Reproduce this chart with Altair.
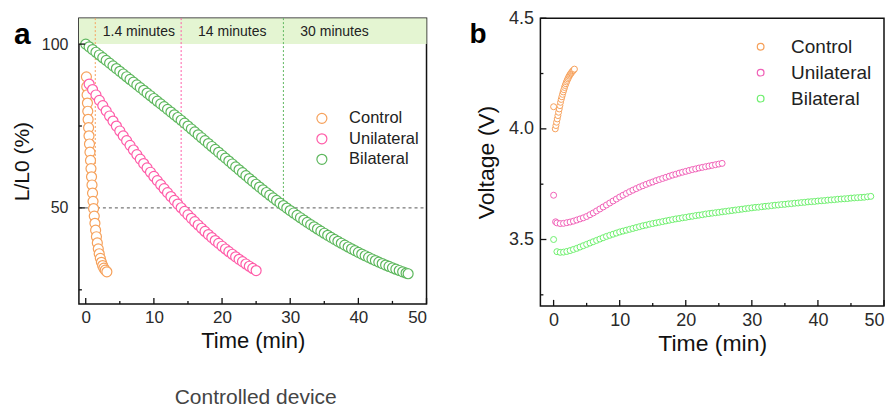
import altair as alt
import pandas as pd

FONT = "Liberation Sans"
SERIES = ["Control", "Unilateral", "Bilateral"]
COLORS_A = ["#F6A15B", "#FF5CA8", "#5DB75D"]
COLORS_B = ["#F6A15B", "#F062B8", "#6EEF6E"]
BAND = "#E4F5D2"

# ---------------- Panel a : L/L0 (%) vs time ----------------
a_control_t = [0.10, 0.15, 0.20, 0.25, 0.30, 0.35, 0.42, 0.48, 0.55, 0.62,
               0.70, 0.77, 0.85, 0.92, 1.00, 1.07, 1.15, 1.25, 1.35, 1.45,
               1.57, 1.70, 1.84, 1.98, 2.14, 2.30, 2.48, 2.66, 2.86, 3.10]
a_control_v = [90.0, 87.0, 84.5, 82.0, 79.5, 77.0, 74.5, 72.0, 69.5, 67.0,
               64.5, 62.0, 59.5, 57.0, 54.5, 52.0, 49.8, 47.5, 45.3, 43.2,
               41.2, 39.3, 37.5, 36.0, 34.6, 33.4, 32.4, 31.6, 31.0, 30.5]

a_uni_t = [0.5, 1.0, 1.5, 2.0, 2.5, 3.0, 3.5, 4.0, 4.5, 5.0,
           5.5, 6.0, 6.5, 7.0, 7.5, 8.0, 8.5, 9.0, 9.5, 10.0,
           10.5, 11.0, 11.5, 12.0, 12.5, 13.0, 13.5, 14.0, 14.5, 15.0,
           15.5, 16.0, 16.5, 17.0, 17.5, 18.0, 18.5, 19.0, 19.5, 20.0,
           20.5, 21.0, 21.5, 22.0, 22.5, 23.0, 23.5, 24.0, 24.5, 25.0]
a_uni_v = [87.80, 86.12, 84.47, 82.83, 81.22, 79.63, 78.06, 76.51, 74.98, 73.48,
           71.99, 70.53, 69.09, 67.67, 66.27, 64.89, 63.54, 62.20, 60.89, 59.60,
           58.33, 57.08, 55.86, 54.65, 53.47, 52.31, 51.17, 50.05, 48.95, 47.88,
           46.82, 45.79, 44.78, 43.79, 42.82, 41.87, 40.95, 40.04, 39.16, 38.30,
           37.46, 36.64, 35.85, 35.07, 34.32, 33.59, 32.88, 32.19, 31.52, 30.88]

a_bi_t = [0.0, 0.5, 1.0, 1.5, 2.0, 2.5, 3.0, 3.5, 4.0, 4.5,
          5.0, 5.5, 6.0, 6.5, 7.0, 7.5, 8.0, 8.5, 9.0, 9.5,
          10.0, 10.5, 11.0, 11.5, 12.0, 12.5, 13.0, 13.5, 14.0, 14.5,
          15.0, 15.5, 16.0, 16.5, 17.0, 17.5, 18.0, 18.5, 19.0, 19.5,
          20.0, 20.5, 21.0, 21.5, 22.0, 22.5, 23.0, 23.5, 24.0, 24.5,
          25.0, 25.5, 26.0, 26.5, 27.0, 27.5, 28.0, 28.5, 29.0, 29.5,
          30.0, 30.5, 31.0, 31.5, 32.0, 32.5, 33.0, 33.5, 34.0, 34.5,
          35.0, 35.5, 36.0, 36.5, 37.0, 37.5, 38.0, 38.5, 39.0, 39.5,
          40.0, 40.5, 41.0, 41.5, 42.0, 42.5, 43.0, 43.5, 44.0, 44.5,
          45.0, 45.5, 46.0, 46.5, 47.0, 47.3]
a_bi_v = [100.0, 99.17, 98.34, 97.51, 96.68, 95.85, 95.02, 94.19, 93.36, 92.53,
          91.70, 90.87, 90.04, 89.21, 88.38, 87.55, 86.72, 85.89, 85.06, 84.23,
          83.40, 82.57, 81.74, 80.91, 80.08, 79.25, 78.42, 77.59, 76.76, 75.87,
          74.98, 74.09, 73.20, 72.31, 71.42, 70.53, 69.64, 68.75, 67.86, 66.97,
          66.08, 65.19, 64.30, 63.41, 62.52, 61.63, 60.74, 59.85, 58.96, 58.09,
          57.22, 56.37, 55.53, 54.70, 53.88, 53.07, 52.27, 51.49, 50.71, 49.95,
          49.19, 48.45, 47.72, 47.00, 46.29, 45.59, 44.90, 44.23, 43.56, 42.91,
          42.26, 41.63, 41.01, 40.40, 39.80, 39.21, 38.63, 38.07, 37.51, 36.97,
          36.43, 35.91, 35.40, 34.90, 34.41, 33.93, 33.46, 33.01, 32.56, 32.13,
          31.70, 31.29, 30.89, 30.50, 30.12, 29.90]

band_labels = ["1.4 minutes", "14 minutes", "30 minutes"]
band_label_t = [7.8, 21.5, 36.5]
band_label_v = [103.6, 103.6, 103.6]
marker_t = [1.4, 14.0, 29.0]

# ---------------- Panel b : Voltage vs time ----------------
b_control_t = [0.0, 0.25, 0.35, 0.45, 0.55, 0.65, 0.75, 0.85, 0.95, 1.05,
               1.15, 1.25, 1.35, 1.45, 1.55, 1.65, 1.75, 1.85, 1.95, 2.05,
               2.15, 2.25, 2.35, 2.45, 2.55, 2.65, 2.75, 2.85, 2.95, 3.05, 3.15]
b_control_v = [4.100, 4.000, 4.015, 4.030, 4.045, 4.060, 4.075, 4.090, 4.105, 4.120,
               4.133, 4.145, 4.156, 4.167, 4.177, 4.187, 4.196, 4.204, 4.212, 4.219,
               4.226, 4.232, 4.238, 4.243, 4.248, 4.252, 4.256, 4.260, 4.263, 4.266, 4.270]

b_uni_t = [0.0, 0.3, 0.5, 1.0, 1.5, 2.0, 2.5, 3.0, 3.5, 4.0, 4.5, 5.0,
           5.5, 6.0, 6.5, 7.0, 7.5, 8.0, 8.5, 9.0, 9.5, 10.0,
           10.5, 11.0, 11.5, 12.0, 12.5, 13.0, 13.5, 14.0, 14.5, 15.0,
           15.5, 16.0, 16.5, 17.0, 17.5, 18.0, 18.5, 19.0, 19.5, 20.0,
           20.5, 21.0, 21.5, 22.0, 22.5, 23.0, 23.5, 24.0, 24.5, 25.0, 25.5]
b_uni_v = [3.700, 3.580, 3.575, 3.572, 3.573, 3.576, 3.579, 3.583, 3.588, 3.593, 3.598, 3.604,
           3.612, 3.620, 3.629, 3.638, 3.647, 3.656, 3.665, 3.674, 3.683, 3.692,
           3.700, 3.708, 3.716, 3.723, 3.730, 3.737, 3.743, 3.749, 3.755, 3.760,
           3.766, 3.771, 3.776, 3.781, 3.786, 3.791, 3.795, 3.800, 3.804, 3.808,
           3.812, 3.816, 3.819, 3.823, 3.826, 3.829, 3.832, 3.835, 3.838, 3.841, 3.844]

b_bi_t = [0.0, 0.5, 1.0, 1.5, 2.0, 2.5, 3.0, 3.5, 4.0, 4.5,
          5.0, 5.5, 6.0, 6.5, 7.0, 7.5, 8.0, 8.5, 9.0, 9.5,
          10.0, 10.5, 11.0, 11.5, 12.0, 12.5, 13.0, 13.5, 14.0, 14.5,
          15.0, 15.5, 16.0, 16.5, 17.0, 17.5, 18.0, 18.5, 19.0, 19.5,
          20.0, 20.5, 21.0, 21.5, 22.0, 22.5, 23.0, 23.5, 24.0, 24.5,
          25.0, 25.5, 26.0, 26.5, 27.0, 27.5, 28.0, 28.5, 29.0, 29.5,
          30.0, 30.5, 31.0, 31.5, 32.0, 32.5, 33.0, 33.5, 34.0, 34.5,
          35.0, 35.5, 36.0, 36.5, 37.0, 37.5, 38.0, 38.5, 39.0, 39.5,
          40.0, 40.5, 41.0, 41.5, 42.0, 42.5, 43.0, 43.5, 44.0, 44.5,
          45.0, 45.5, 46.0, 46.5, 47.0, 47.5, 48.0]
b_bi_v = [3.500, 3.445, 3.442, 3.443, 3.446, 3.450, 3.455, 3.460, 3.466, 3.472,
          3.478, 3.484, 3.490, 3.496, 3.502, 3.508, 3.514, 3.519, 3.524, 3.529,
          3.534, 3.538, 3.542, 3.546, 3.550, 3.554, 3.558, 3.562, 3.565, 3.569,
          3.572, 3.575, 3.578, 3.581, 3.584, 3.587, 3.590, 3.593, 3.595, 3.598,
          3.600, 3.603, 3.605, 3.608, 3.610, 3.612, 3.615, 3.617, 3.619, 3.621,
          3.623, 3.625, 3.627, 3.629, 3.631, 3.633, 3.635, 3.637, 3.639, 3.641,
          3.643, 3.645, 3.646, 3.648, 3.650, 3.651, 3.653, 3.655, 3.656, 3.658,
          3.659, 3.661, 3.662, 3.664, 3.665, 3.667, 3.668, 3.670, 3.671, 3.672,
          3.674, 3.675, 3.676, 3.678, 3.679, 3.680, 3.682, 3.683, 3.684, 3.685,
          3.687, 3.688, 3.689, 3.690, 3.691, 3.693, 3.695]

x_ticks_major = [0, 10, 20, 30, 40, 50]
x_ticks_minor = [5, 15, 25, 35, 45]
ya_ticks_major = [50, 100]
ya_ticks_minor = [25, 75]
yb_ticks_major = [3.5, 4.0, 4.5]
yb_ticks_minor = [3.25, 3.75, 4.25]

# ---------------- helpers ----------------
W_A, H_A = 348, 286
W_B, H_B = 344, 288


def series_df(ts, vs, name):
    return pd.DataFrame({"t": ts, "v": vs, "series": name})


def axis(title, values, lsize, tsize, lpad, tpad, fmt=None):
    kw = dict(title=title, values=values, ticks=False, tickSize=0, domain=False,
              grid=False, labelFontSize=lsize, labelFont=FONT, labelColor="#2a2a2a",
              titleFontSize=tsize, titleFont=FONT, titleColor="#111",
              titleFontWeight="normal", labelPadding=lpad, titlePadding=tpad)
    if fmt:
        kw["format"] = fmt
    return alt.Axis(**kw)


def panel(W, H, xdom, ydom, xaxis, yaxis, df, colors, legend, size, sw,
          yt_major, yt_minor):
    xs = alt.Scale(domain=xdom, nice=False, zero=False)
    ys = alt.Scale(domain=ydom, nice=False, zero=False)
    X = lambda f="t": alt.X(f, type="quantitative", scale=xs, axis=xaxis)
    Y = lambda f="v": alt.Y(f, type="quantitative", scale=ys, axis=yaxis)

    pts = alt.Chart(df).mark_point(
        shape="circle", filled=True, fill="white", size=size, strokeWidth=sw, opacity=1
    ).encode(
        x=X(), y=Y(),
        stroke=alt.Stroke("series:N", scale=alt.Scale(domain=SERIES, range=colors),
                          legend=legend),
    )
    ytM = alt.Chart(pd.DataFrame({"v": yt_major})).mark_rule(color="#111", strokeWidth=1.3).encode(
        y=Y(), x=alt.value(0), x2=alt.value(6))
    ytm = alt.Chart(pd.DataFrame({"v": yt_minor})).mark_rule(color="#111", strokeWidth=1.3).encode(
        y=Y(), x=alt.value(0), x2=alt.value(3))
    xtM = alt.Chart(pd.DataFrame({"t": x_ticks_major})).mark_rule(color="#111", strokeWidth=1.3).encode(
        x=X(), y=alt.value(H), y2=alt.value(H - 6))
    xtm = alt.Chart(pd.DataFrame({"t": x_ticks_minor})).mark_rule(color="#111", strokeWidth=1.3).encode(
        x=X(), y=alt.value(H), y2=alt.value(H - 3))
    return pts, [ytM, ytm, xtM, xtm], X, Y


# ---------------- panel a ----------------
df_a = pd.concat([series_df(a_control_t, a_control_v, "Control"),
                  series_df(a_uni_t, a_uni_v, "Unilateral"),
                  series_df(a_bi_t, a_bi_v, "Bilateral")])
leg_a = alt.Legend(orient="none", legendX=235, legendY=92, title=None,
                   symbolType="circle", symbolSize=100, symbolStrokeWidth=1.2,
                   symbolFillColor="white", labelFontSize=16.5, labelFont=FONT,
                   labelColor="#222", rowPadding=3.5, labelOffset=19, padding=0)
xdom_a, ydom_a = [-1, 50], [20.7, 107.9]
pts_a, ticks_a, XA, YA = panel(
    W_A, H_A, xdom_a, ydom_a,
    axis("Time (min)", x_ticks_major, 17, 22, 6, 5),
    axis("L/L0 (%)", ya_ticks_major, 16, 21, 11, 9),
    df_a, COLORS_A, leg_a, 100, 1.2, ya_ticks_major, ya_ticks_minor)

band = alt.Chart(pd.DataFrame({"t": [xdom_a[0]], "t2": [xdom_a[1]],
                               "v": [100], "v2": [ydom_a[1]]})).mark_rect(color=BAND).encode(
    x=XA(), x2="t2", y=YA(), y2="v2")
vl = alt.Chart(pd.DataFrame({"t": marker_t, "v": [50] * 3, "v2": [ydom_a[1]] * 3,
                             "c": COLORS_A})).mark_rule(strokeDash=[2, 2], strokeWidth=1).encode(
    x=XA(), y=YA(), y2="v2", color=alt.Color("c:N", scale=None))
hl = alt.Chart(pd.DataFrame({"t": [xdom_a[0]], "t2": [xdom_a[1]], "v": [50]})).mark_rule(
    strokeDash=[3, 3], strokeWidth=1, color="#555").encode(x=XA(), x2="t2", y=YA())
blab = alt.Chart(pd.DataFrame({"t": band_label_t, "v": band_label_v, "s": band_labels})).mark_text(
    fontSize=14, font=FONT, color="#222", align="center", baseline="middle").encode(
    x=XA(), y=YA(), text="s:N")
letter_a = alt.Chart(pd.DataFrame({"s": ["a"]})).mark_text(
    fontSize=30, fontWeight="bold", font=FONT, align="left", baseline="alphabetic",
    color="#000").encode(text="s:N", x=alt.value(-65), y=alt.value(26))
caption = alt.Chart(pd.DataFrame({"s": ["Controlled device"]})).mark_text(
    fontSize=21, font=FONT, align="center", baseline="middle", color="#444").encode(
    text="s:N", x=alt.value(W_A / 2 + 3), y=alt.value(H_A + 94))

panel_a = alt.layer(band, hl, vl, blab, pts_a, *ticks_a, letter_a, caption).properties(
    width=W_A, height=H_A)

# ---------------- panel b ----------------
df_b = pd.concat([series_df(b_control_t, b_control_v, "Control"),
                  series_df(b_uni_t, b_uni_v, "Unilateral"),
                  series_df(b_bi_t, b_bi_v, "Bilateral")])
leg_b = alt.Legend(orient="none", legendX=211, legendY=19, title=None,
                   symbolType="circle", symbolSize=45, symbolStrokeWidth=1.2,
                   symbolFillColor="white", labelFontSize=19, labelFont=FONT,
                   labelColor="#222", rowPadding=6, labelOffset=21, padding=0)
pts_b, ticks_b, XB, YB = panel(
    W_B, H_B, [-2, 50], [3.2, 4.5],
    axis("Time (min)", x_ticks_major, 18, 23, 6, 3),
    axis("Voltage (V)", yb_ticks_major, 18, 23, 7, 10, ".1f"),
    df_b, COLORS_B, leg_b, 36, 1.0, yb_ticks_major, yb_ticks_minor)
letter_b = alt.Chart(pd.DataFrame({"s": ["b"]})).mark_text(
    fontSize=28, fontWeight="bold", font=FONT, align="left", baseline="alphabetic",
    color="#000").encode(text="s:N", x=alt.value(-71), y=alt.value(25))

panel_b = alt.layer(pts_b, *ticks_b, letter_b).properties(width=W_B, height=H_B)

chart = alt.hconcat(panel_a, panel_b, spacing=40).resolve_scale(
    stroke="independent").configure_view(stroke="#111", strokeWidth=1.5).properties(
    padding={"left": 2, "top": 0, "right": 0, "bottom": 0})

chart.save("out.html", embed_options={"renderer": "svg", "actions": False})
